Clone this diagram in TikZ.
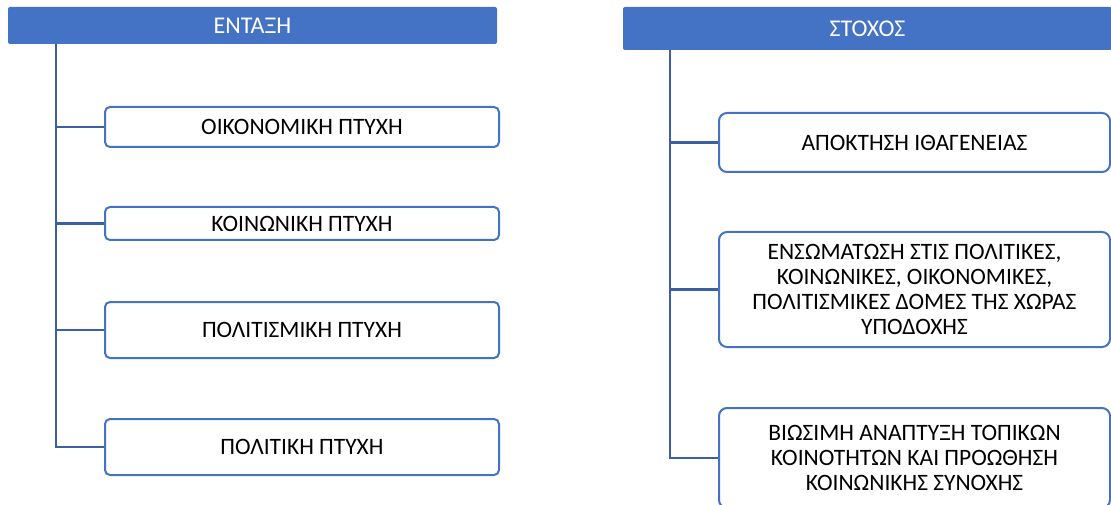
\documentclass[tikz,border=0pt]{standalone}
\usepackage{fontspec}
\setmainfont{Carlito}
\definecolor{hdrblue}{HTML}{4472C4}
\definecolor{lineblue}{HTML}{3C5FA3}
\begin{document}
\begin{tikzpicture}[x=1pt,y=-1pt,
  hdr/.style={rectangle,fill=hdrblue,rounded corners=2pt,text=white,inner sep=0pt,font=\fontsize{24}{25}\selectfont},
  itembox/.style={rectangle,draw=hdrblue,line width=2pt,fill=white,inner sep=0pt,align=center,font=\fontsize{23.5}{25}\selectfont},
  conn/.style={draw=lineblue,line width=2.5pt}]
\useasboundingbox (0,0) rectangle (1111,505);
\clip (0,0) rectangle (1111,505);
% left column
\node[hdr,minimum width=489pt,minimum height=37pt] (hL) at (252.5,25.5) {ΕΝΤΑΞΗ};
\node[itembox,rounded corners=5pt,minimum width=394pt,minimum height=40pt] (l1) at (302,127) {ΟΙΚΟΝΟΜΙΚΗ ΠΤΥΧΗ};
\node[itembox,rounded corners=5pt,minimum width=394pt,minimum height=33pt] (l2) at (302,223.5) {ΚΟΙΝΩΝΙΚΗ ΠΤΥΧΗ};
\node[itembox,rounded corners=5pt,minimum width=394pt,minimum height=56pt] (l3) at (302,330) {ΠΟΛΙΤΙΣΜΙΚΗ ΠΤΥΧΗ};
\node[itembox,rounded corners=5pt,minimum width=394pt,minimum height=56pt] (l4) at (302,447) {ΠΟΛΙΤΙΚΗ ΠΤΥΧΗ};
\coordinate (lt) at (56,44);
\draw[conn] (lt) |- (l4.west);
\draw[conn] (lt |- l1.west) -- (l1.west);
\draw[conn] (lt |- l2.west) -- (l2.west);
\draw[conn] (lt |- l3.west) -- (l3.west);
% right column
\node[hdr,minimum width=489pt,minimum height=43pt] (hR) at (867.5,28.5) {ΣΤΟΧΟΣ};
\node[itembox,rounded corners=8pt,minimum width=391pt,minimum height=59pt] (r1) at (914.5,142.5) {ΑΠΟΚΤΗΣΗ ΙΘΑΓΕΝΕΙΑΣ};
\node[itembox,rounded corners=8pt,minimum width=391pt,minimum height=115pt] (r2) at (914.5,289.5) {ΕΝΣΩΜΑΤΩΣΗ ΣΤΙΣ ΠΟΛΙΤΙΚΕΣ,\\ ΚΟΙΝΩΝΙΚΕΣ, ΟΙΚΟΝΟΜΙΚΕΣ,\\ ΠΟΛΙΤΙΣΜΙΚΕΣ ΔΟΜΕΣ ΤΗΣ ΧΩΡΑΣ\\ ΥΠΟΔΟΧΗΣ};
\node[itembox,rounded corners=8pt,minimum width=391pt,minimum height=100pt] (r3) at (914.5,458) {ΒΙΩΣΙΜΗ ΑΝΑΠΤΥΞΗ ΤΟΠΙΚΩΝ\\ ΚΟΙΝΟΤΗΤΩΝ ΚΑΙ ΠΡΟΩΘΗΣΗ\\ ΚΟΙΝΩΝΙΚΗΣ ΣΥΝΟΧΗΣ};
\coordinate (rt) at (670,50);
\draw[conn] (rt) |- (r3.west);
\draw[conn] (rt |- r1.west) -- (r1.west);
\draw[conn] (rt |- r2.west) -- (r2.west);
\end{tikzpicture}
\end{document}
